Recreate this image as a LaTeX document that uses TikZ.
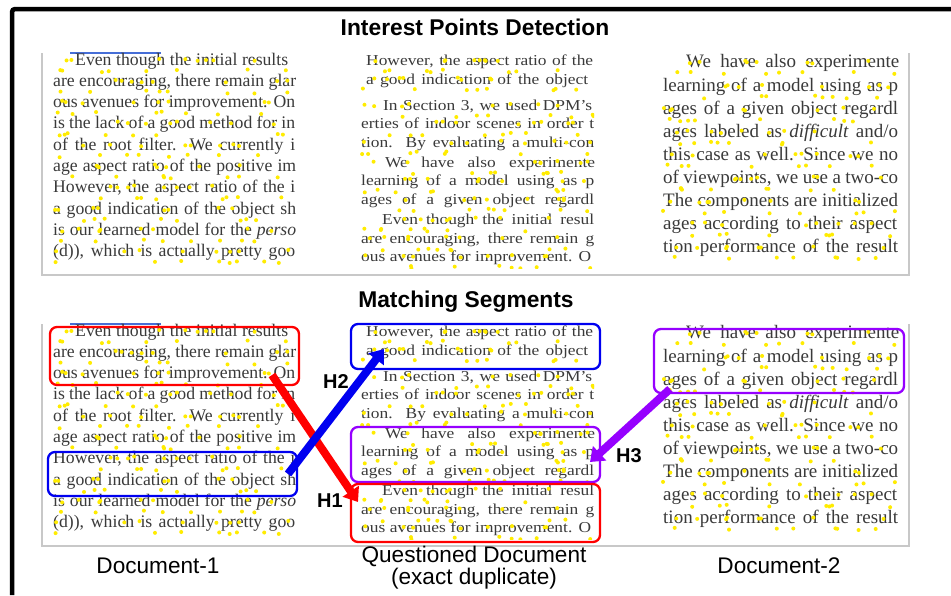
\documentclass[tikz,border=0pt]{standalone}
\usepackage{fontspec}
\usepackage{graphicx}
\setmainfont{Liberation Serif}
\newfontfamily\labelfont{Liberation Sans}
\usetikzlibrary{arrows.meta}

\definecolor{inkgray}{RGB}{58,58,58}
\definecolor{framegray}{RGB}{200,200,200}
\definecolor{ipyellow}{RGB}{255,236,0}
\definecolor{rulerblue}{RGB}{70,110,215}
\definecolor{hred}{RGB}{255,0,0}
\definecolor{hblue}{RGB}{0,0,240}
\definecolor{hpurple}{RGB}{150,0,255}

\tikzset{
  docline/.style={anchor=mid west, inner sep=0pt, text=inkgray},
  lineA/.style={docline, font=\fontsize{17.7}{20}\selectfont},
  lineB/.style={docline, font=\fontsize{17.4}{20}\selectfont},
  lineC/.style={docline, font=\fontsize{19}{22}\selectfont},
  segbox/.style={draw=#1, line width=2.3pt, rounded corners=7pt, inner sep=0pt},
  harrow/.style={draw=#1, line width=8pt,
    -{Triangle[length=13pt,width=19pt]}},
  hlabel/.style={font=\labelfont\bfseries\fontsize{20}{24}\selectfont,
    inner sep=0pt, anchor=base},
  title/.style={font=\labelfont\bfseries\fontsize{22.8}{26}\selectfont,
    inner sep=0pt, anchor=base},
  caption/.style={font=\labelfont\fontsize{22.6}{26}\selectfont,
    inner sep=0pt, anchor=base},
}

% interest points scattered along text lines: x0, x1, line centres, dots per row
\newcommand\ipdots[4]{%
  \foreach \yy in {#3}{%
    \foreach \off in {-3,8}{%
      \foreach \j in {1,...,#4}{%
        \pgfmathsetmacro\dx{#1+rnd*(#2-#1)}%
        \pgfmathsetmacro\dy{\yy+\off+3*rnd-1.5}%
        \fill[ipyellow] (\dx,\dy) circle[radius=2];
      }}}}

% three scanned, justified text columns with their interest points;
% each entry: centre y / left x / right x / text.  #1 = name prefix
\newcommand\docpanel[1]{%
  \draw[framegray, line width=1.2pt] (42,53) -- (42,275) -- (909,275) -- (909,53);
  \draw[rulerblue, line width=1.2pt] (70,53) -- (161,53);
  % Document-1
  \begin{scope}
    \clip (44,48) rectangle (297,272);
    \foreach \y/\x/\w/\txt [count=\k, evaluate=\w as \lw using \w-\x] in {
      63/75/288/{Even though the initial results},
      84/53/296/{are encouraging, there remain glar},
      105/53/295/{ous avenues for improvement. On},
      126/53/295/{is the lack of a good method for in},
      148/53/295/{of the root filter. We currently i},
      169/53/296/{age aspect ratio of the positive im},
      190/53/295/{However, the aspect ratio of the i},
      212/53/296/{a good indication of the object sh},
      233/53/296/{is our learned model for the \textit{perso}},
      254/53/295/{(d)), which is actually pretty goo}}
      \node[lineA, name=#1a\k] at (\x,\y) {\makebox[\lw pt][s]{\txt}};
    \pgfmathsetseed{41}
    \ipdots{53}{296}{63,84,105,126,148,169,190,212,233,254}{8}
  \end{scope}
  % questioned document
  \begin{scope}
    \clip (358,48) rectangle (594,268);
    \foreach \y/\x/\w/\txt [count=\k, evaluate=\w as \lw using \w-\x] in {
      63/366/593/{However, the aspect ratio of the},
      82/366/588/{a good indication of the object},
      108/383/592/{In Section 3, we used DPM’s},
      126/361/594/{erties of indoor scenes in order t},
      145/361/594/{tion.  By evaluating a multi-con},
      165/385/595/{We have also experimente},
      183/361/594/{learning of a model using as p},
      202/361/594/{ages of a given object regardl},
      222/382/594/{Even though the initial resul},
      241/361/594/{are encouraging, there remain g},
      259/361/591/{ous avenues for improvement. O}}
      \node[lineB, name=#1b\k] at (\x,\y)
        {\scalebox{1}[0.87]{\makebox[\lw pt][s]{\txt}}};
    \pgfmathsetseed{97}
    \ipdots{361}{594}{63,82,108,126,145,165,183,202,222,241,259}{8}
  \end{scope}
  % Document-2
  \begin{scope}
    \clip (660,48) rectangle (898,272);
    \foreach \y/\x/\w/\txt [count=\k, evaluate=\w as \lw using \w-\x] in {
      65/686/899/{We have also experimente},
      89/663/898/{learning of a model using as p},
      112/663/898/{ages of a given object regardl},
      135/663/898/{ages labeled as \textit{difficult} and/o},
      158/663/898/{this case as well.  Since we no},
      181/663/898/{of viewpoints, we use a two-co},
      204/663/898/{The components are initialized},
      227/663/897/{ages according to their aspect},
      250/663/898/{tion performance of the result}}
      \node[lineC, name=#1c\k] at (\x,\y) {\makebox[\lw pt][s]{\txt}};
    \pgfmathsetseed{7}
    \ipdots{663}{898}{65,89,112,135,158,181,204,227,250}{8}
  \end{scope}
}

\begin{document}
\begin{tikzpicture}[x=1pt, y=-1pt]
  \useasboundingbox (0,0) rectangle (951,595);
  \fill[white] (0,0) rectangle (951,595);

  % outer frame (left and top)
  \draw[line width=4.5pt, rounded corners=3pt] (12,595) -- (12,9) -- (951,9);

  % interest points detection
  \node[title] (t1) at (475,35) {Interest Points Detection};
  \docpanel{u}

  % matching segments
  \node[title] (t2) at (466,307) {Matching Segments};
  \begin{scope}[shift={(0,271)}]
    \docpanel{l}
  \end{scope}

  % matched segment boxes
  \node[segbox=hred, minimum width=249pt, minimum height=58pt] (r1) at (174.5,356) {};
  \node[segbox=hblue, minimum width=249pt, minimum height=44pt] (b1) at (172.5,474) {};
  \node[segbox=hblue, minimum width=249pt, minimum height=45pt] (b2) at (475.5,346.5) {};
  \node[segbox=hpurple, minimum width=249pt, minimum height=55pt] (p2) at (475.5,454.5) {};
  \node[segbox=hred, minimum width=249pt, minimum height=58pt] (r2) at (475.5,513) {};
  \node[segbox=hpurple, minimum width=250pt, minimum height=64pt] (p3) at (779,361) {};

  % arrow end points
  \coordinate (h1s) at (272,375);
  \coordinate (h1e) at (358,502);
  \coordinate (h2s) at (288,474);
  \coordinate (h2e) at (384,349);
  \coordinate (h3s) at (670,389);
  \coordinate (h3e) at (590,462);

  \draw[harrow=hred] (h1s) -- (h1e);
  \draw[harrow=hblue] (h2s) -- (h2e);
  \draw[harrow=hpurple] (h3s) -- (h3e);

  \node[hlabel] (H1) at (330,507) {H1};
  \node[hlabel] (H2) at (336,388) {H2};
  \node[hlabel] (H3) at (629,462) {H3};

  % captions
  \node[caption] (c1) at (158,573) {Document-1};
  \node[caption] (c2) at (474,562) {Questioned Document};
  \node[caption] (c3) at (474,584) {(exact duplicate)};
  \node[caption] (c4) at (779,573) {Document-2};
\end{tikzpicture}
\end{document}
